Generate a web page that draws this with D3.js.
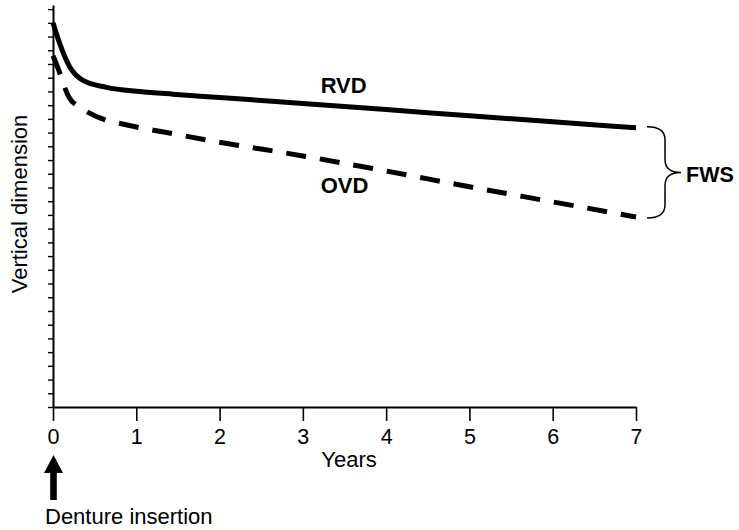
<!DOCTYPE html>
<html>
<head>
<meta charset="utf-8">
<script src="https://cdn.jsdelivr.net/npm/d3@7"></script>
<style>
  html, body { margin: 0; padding: 0; background: #fff; }
  svg { display: block; }
  text { font-family: "Liberation Sans", Arial, Helvetica, sans-serif; fill: #000; }
</style>
</head>
<body>
<svg id="chart" width="739" height="530"></svg>
<script>
// ---- data ----
const xTicks = [0, 1, 2, 3, 4, 5, 6, 7];
const yTickCount = 29;               // minor ticks on y axis (no labels)
const rvdYears  = [0, 0.08, 0.2, 0.36, 0.64, 1.04, 1.44, 2, 3, 4, 5, 6, 7];
const rvdValues = [28.0, 26.5, 24.8, 23.8, 23.3, 23.0, 22.8, 22.56, 22.12, 21.68, 21.23, 20.79, 20.35];
const ovdYears  = [0, 0.06, 0.19, 0.35, 0.53, 0.93, 1.33, 2, 3, 4, 5, 6, 7];
const ovdValues = [25.6, 24.7, 22.6, 21.75, 21.16, 20.5, 20.04, 19.3, 18.3, 17.2, 16.05, 14.95, 13.85];
const seriesLabels = ["RVD", "OVD"];
const xTitle = "Years";
const yTitle = "Vertical dimension";
const annotation = "Denture insertion";
const braceLabel = "FWS";

// ---- layout ----
const svg = d3.select("#chart");
const x = d3.scaleLinear().domain([0, 7]).range([53, 636]);
const y = d3.scaleLinear().domain([0, 29.3]).range([407, 5]);

// x axis
const xAxis = d3.axisBottom(x).tickValues(xTicks).tickSize(14).tickPadding(8).tickSizeOuter(0)
  .tickFormat(d3.format("d"));
const gx = svg.append("g").attr("transform", `translate(0,${y(0)})`).call(xAxis);
gx.select(".domain").attr("stroke", "#000").attr("stroke-width", 2);
gx.selectAll(".tick line").attr("stroke", "#000").attr("stroke-width", 1.6);
gx.selectAll(".tick text").attr("font-size", 21.5).attr("font-family", "Liberation Sans, Arial, sans-serif");

// y axis
const yAxis = d3.axisLeft(y).tickValues(d3.range(0, yTickCount + 1)).tickSize(5).tickFormat("").tickSizeOuter(0);
const gy = svg.append("g").attr("transform", `translate(${x(0)},0)`).call(yAxis);
gy.select(".domain").attr("stroke", "#000").attr("stroke-width", 2);
gy.selectAll(".tick line").attr("stroke", "#000").attr("stroke-width", 1.4);

// curves
const line = d3.line().x(d => x(d[0])).y(d => y(d[1])).curve(d3.curveMonotoneX);
const rvd = rvdYears.map((t, i) => [t, rvdValues[i]]);
const ovd = ovdYears.map((t, i) => [t, ovdValues[i]]);

svg.append("path").datum(rvd).attr("d", line)
  .attr("fill", "none").attr("stroke", "#000").attr("stroke-width", 5);
svg.append("path").datum(ovd).attr("d", line)
  .attr("fill", "none").attr("stroke", "#000").attr("stroke-width", 5)
  .attr("stroke-dasharray", "20,14");

// series labels
svg.append("text").attr("x", x(3.49)).attr("y", y(22.86)).attr("text-anchor", "middle")
  .attr("font-size", 22).attr("font-weight", "bold").text(seriesLabels[0]);
svg.append("text").attr("x", x(3.5)).attr("y", y(15.57)).attr("text-anchor", "middle")
  .attr("font-size", 22).attr("font-weight", "bold").text(seriesLabels[1]);

// brace between end values
const yTop = y(rvdValues[rvdValues.length - 1]) - 1;
const yBot = y(ovdValues[ovdValues.length - 1]) + 1;
const yMid = (yTop + yBot) / 2;
const bx0 = 647, bx1 = 665, bx2 = 681;
const r = 13;
const bracePath = `M${bx0},${yTop} Q${bx1},${yTop} ${bx1},${yTop + r} L${bx1},${yMid - r} Q${bx1},${yMid} ${bx2},${yMid} ` +
  `Q${bx1},${yMid} ${bx1},${yMid + r} L${bx1},${yBot - r} Q${bx1},${yBot} ${bx0},${yBot}`;
svg.append("path").attr("d", bracePath).attr("fill", "none").attr("stroke", "#000").attr("stroke-width", 1.5);
svg.append("text").attr("x", 686).attr("y", yMid + 10).attr("font-size", 21.5).attr("font-weight", "bold").text(braceLabel);

// axis titles
svg.append("text").attr("x", 349).attr("y", 467).attr("text-anchor", "middle").attr("font-size", 22).text(xTitle);
svg.append("text").attr("transform", `translate(27,204) rotate(-90)`).attr("text-anchor", "middle")
  .attr("font-size", 22).text(yTitle);

// arrow for denture insertion
const ax = x(0) + 0.5;
svg.append("path")
  .attr("d", `M${ax},455 L${ax + 9.5},473 L${ax + 3.3},473 L${ax + 3.3},500 L${ax - 3.3},500 L${ax - 3.3},473 L${ax - 9.5},473 Z`)
  .attr("fill", "#000");
svg.append("text").attr("x", 45).attr("y", 524).attr("font-size", 22).text(annotation);
</script>
</body>
</html>
